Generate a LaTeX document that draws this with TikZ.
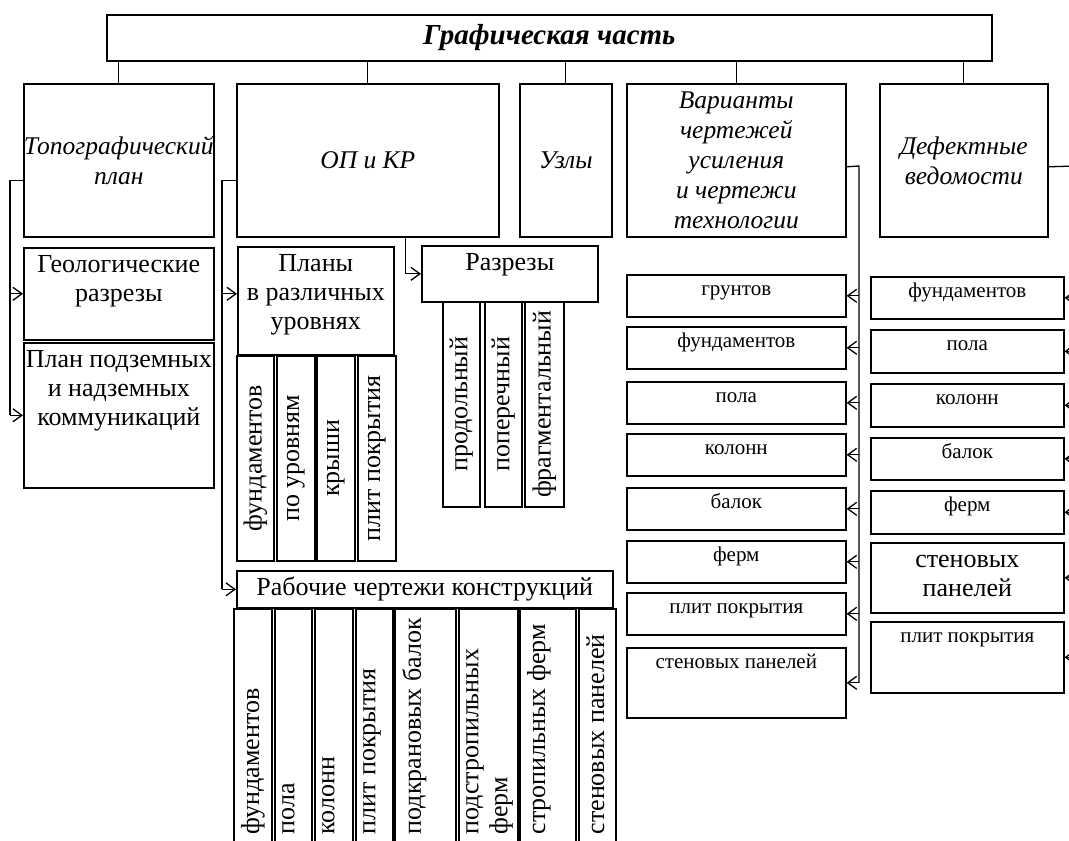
\documentclass[tikz,border=0pt]{standalone}
\usepackage{fontspec}
\setmainfont{Liberation Serif}
\usetikzlibrary{arrows.meta}

\begin{document}
\begin{tikzpicture}[x=1pt, y=-1pt,
  box/.style={draw, line width=1.6pt, inner sep=0pt, anchor=north west, align=center},
  head/.style={font=\fontsize{25.5}{30}\selectfont\itshape},
  big/.style={font=\fontsize{26}{29}\selectfont, align=center},
  small/.style={font=\fontsize{21}{25}\selectfont, align=center},
  bigtop/.style={big, anchor=north, inner sep=4.5pt},
  smalltop/.style={small, anchor=north, inner sep=3.5pt},
  link/.style={line width=1.3pt},
  arrow/.style={link, -{Straight Barb[length=9pt, width=13pt]}},
  tinyarrow/.style={link, -{Straight Barb[length=4pt, width=6pt]}},
]
  \useasboundingbox (0,0) rectangle (1069,841);

  % title and first level
  \node[box, minimum width=885pt, minimum height=46pt,
    font=\fontsize{29}{34}\selectfont\bfseries\itshape] (title) at (106,14) {Графическая часть};
  \node[box, head, minimum width=190pt, minimum height=153pt] (topo) at (23,83) {Топографический\\план};
  \node[box, head, minimum width=262pt, minimum height=153pt] (opkr) at (236,83) {ОП и КР};
  \node[box, head, minimum width=92pt, minimum height=153pt] (uzly) at (519,83) {Узлы};
  \node[box, head, minimum width=219pt, minimum height=153pt] (var) at (626,83)
    {Варианты\\чертежей\\усиления\\и чертежи\\технологии};
  \node[box, head, minimum width=168pt, minimum height=153pt] (def) at (879,83) {Дефектные\\ведомости};
  \foreach \c in {topo,opkr,uzly,var,def}
    \draw[link] (title.south -| \c.north) -- (\c.north);

  % topographic plan
  \node[box, minimum width=190pt, minimum height=92pt] (geo) at (23,247) {};
  \node[bigtop] (geo-t) at (geo.north) {\strut Геологические\\разрезы};
  \node[box, minimum width=190pt, minimum height=145pt] (comm) at (23,342) {};
  \node[bigtop] (comm-t) at (comm.north) {\strut План подземных\\и надземных\\коммуникаций};
  \draw[link] ([yshift=-20pt]topo.west) -| ([xshift=-13pt]comm.west);
  \draw[arrow] ([xshift=-13pt]geo.west) -- (geo.west);
  \draw[arrow] ([xshift=-13pt]comm.west) -- (comm.west);

  % plans
  \node[box, minimum width=156pt, minimum height=108pt] (plany) at (237,246) {};
  \node[bigtop] (plany-t) at (plany.north) {\strut Планы\\в различных\\уровнях};
  \node[box, minimum width=37pt, minimum height=205pt] (p1) at (236,355) {};
  \node[box, minimum width=38pt, minimum height=205pt] (p2) at (276,355) {};
  \node[box, minimum width=38pt, minimum height=205pt] (p3) at (316,355) {};
  \node[box, minimum width=38pt, minimum height=205pt] (p4) at (357,355) {};
  \node[big, rotate=90] (p1-t) at (p1.center) {фундаментов};
  \node[big, rotate=90] (p2-t) at (p2.center) {по уровням};
  \node[big, rotate=90] (p3-t) at (p3.center) {крыши};
  \node[big, rotate=90] (p4-t) at (p4.center) {плит покрытия};

  % sections
  \node[box, minimum width=176pt, minimum height=56pt] (razr) at (421,245) {};
  \node[bigtop] (razr-t) at (razr.north) {\strut Разрезы};
  \node[box, minimum width=37pt, minimum height=205pt] (s1) at (442,301) {};
  \node[box, minimum width=37pt, minimum height=205pt] (s2) at (484,301) {};
  \node[box, minimum width=39pt, minimum height=205pt] (s3) at (524,301) {};
  \node[big, rotate=90] (s1-t) at (s1.center) {продольный};
  \node[big, rotate=90] (s2-t) at (s2.center) {поперечный};
  \node[big, rotate=90] (s3-t) at (s3.center) {фрагментальный};

  % working drawings
  \node[box, minimum width=376pt, minimum height=37pt] (rab) at (236,570) {};
  \node[bigtop] (rab-t) at (rab.north) {\strut Рабочие чертежи конструкций};
  \foreach \n/\x/\w/\t in {1/233/38/фундаментов, 2/274/37/пола, 3/314/38/колонн,
      4/355/37/плит покрытия, 5/394/61/подкрановых балок, 6/458/59/подстропильных\\ферм,
      7/519/56/стропильных ферм, 8/578/37/стеновых панелей} {
    \node[box, minimum width=\w pt, minimum height=252pt] (w\n) at (\x,608) {};
    \node[big, align=left, rotate=90, anchor=north west, inner xsep=2pt, inner ysep=8pt] (w\n-t)
      at ([yshift=25pt]w\n.south west) {\t};
  }
  \draw[link] ([yshift=-20pt]opkr.west) -| ([xshift=-14pt]rab.west);
  \draw[arrow] ([xshift=-15pt,yshift=7pt]plany.west) -- ([yshift=7pt]plany.west);
  \draw[arrow] ([xshift=-14pt]rab.west) -- (rab.west);
  \draw[arrow] ([xshift=38pt]opkr.south) |- (razr.west);

  % strengthening variants
  \foreach \n/\y/\h/\t in {1/274/42/грунтов, 2/326/42/фундаментов, 3/381/42/пола,
      4/433/42/колонн, 5/487/42/балок, 6/540/42/ферм, 7/592/42/плит покрытия,
      8/647/70/стеновых панелей} {
    \node[box, minimum width=219pt, minimum height=\h pt] (vs\n) at (626,\y) {};
    \node[smalltop] (vs\n-t) at (vs\n.north) {\strut\t};
  }
  \coordinate (vbus) at (859,166);
  \draw[link] ([yshift=-6.5pt]var.east) -- (vbus) -- (vbus |- vs8.east);
  \foreach \n in {1,...,8}
    \draw[arrow] (vbus |- vs\n.east) -- (vs\n.east);

  % defect lists
  \foreach \n/\y/\h in {1/276/42, 2/329/43, 3/383/43, 4/437/42, 5/490/43, 6/542/70, 7/621/71}
    \node[box, minimum width=193pt, minimum height=\h pt] (ds\n) at (870,\y) {};
  \node[smalltop] (ds1-t) at (ds1.north) {\strut фундаментов};
  \node[smalltop] (ds2-t) at (ds2.north) {\strut пола};
  \node[smalltop] (ds3-t) at (ds3.north) {\strut колонн};
  \node[smalltop] (ds4-t) at (ds4.north) {\strut балок};
  \node[smalltop] (ds5-t) at (ds5.north) {\strut ферм};
  \node[bigtop] (ds6-t) at (ds6.north) {\strut стеновых\\панелей};
  \node[smalltop] (ds7-t) at (ds7.north) {\strut плит покрытия};
  \coordinate (dbus) at (1076,166);
  \draw[link] ([yshift=-6.5pt]def.east) -- (dbus) -- (dbus |- ds7.east);
  \foreach \n in {1,...,7}
    \draw[tinyarrow] (dbus |- ds\n.east) -- (ds\n.east);
\end{tikzpicture}
\end{document}
